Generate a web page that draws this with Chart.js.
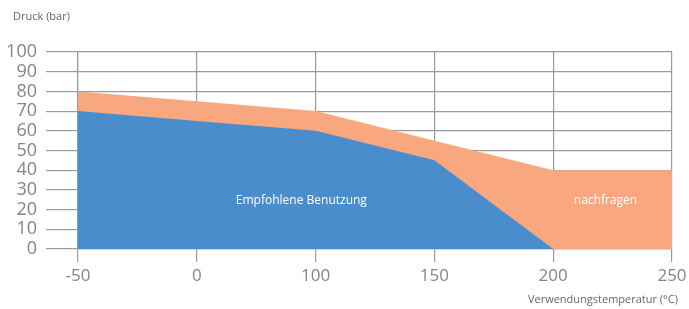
<!DOCTYPE html>
<html>
<head>
<meta charset="utf-8">
<script src="https://cdn.jsdelivr.net/npm/chart.js@4"></script>
<style>
  html, body { margin: 0; padding: 0; background: #fff; }
  #wrap { width: 689px; height: 309px; position: relative; }
</style>
</head>
<body>
<div id="wrap"><canvas id="c" width="689" height="309"></canvas></div>
<script>
const categories = ['-50', '0', '100', '150', '200', '250'];
const yTicks = [0, 10, 20, 30, 40, 50, 60, 70, 80, 90, 100];
const recommended = [70, 65, 60, 45, 0, null];
const askFirst = [80, 75, 70, 55, 40, 40];
const yTitle = 'Druck (bar)';
const xTitle = 'Verwendungstemperatur (°C)';
const regionLabels = [
  { text: 'Empfohlene Benutzung', x: 1.88, y: 24.5 },
  { text: 'nachfragen', x: 4.44, y: 24.5 }
];

const FONT = '"Open Sans", "Noto Sans", sans-serif';
const GRID = '#9a9a9a';
const TICK = '#858585';

const textPlugin = {
  id: 'texts',
  afterDraw(chart) {
    const ctx = chart.ctx;
    const xs = chart.scales.x, ys = chart.scales.y;
    ctx.save();
    ctx.textBaseline = 'middle';
    ctx.font = '11px ' + FONT;
    ctx.fillStyle = '#666';
    ctx.textAlign = 'left';
    ctx.fillText(yTitle, 13, 17);
    ctx.textAlign = 'right';
    ctx.fillText(xTitle, chart.chartArea.right + 6, 300);
    ctx.font = '12px ' + FONT;
    ctx.fillStyle = '#ffffff';
    ctx.textAlign = 'center';
    for (const r of regionLabels) {
      const px = xs.left + (xs.right - xs.left) * r.x / (categories.length - 1);
      ctx.fillText(r.text, px, ys.getPixelForValue(r.y));
    }
    ctx.restore();
  }
};

new Chart(document.getElementById('c'), {
  type: 'line',
  data: {
    labels: categories,
    datasets: [
      {
        label: 'Empfohlene Benutzung',
        data: recommended,
        borderWidth: 0,
        pointRadius: 0,
        backgroundColor: '#4a8dcc',
        fill: 'origin',
        tension: 0,
        order: 0
      },
      {
        label: 'nachfragen',
        data: askFirst,
        borderWidth: 0,
        pointRadius: 0,
        backgroundColor: '#f9a77f',
        fill: 'origin',
        tension: 0,
        order: 1
      }
    ]
  },
  options: {
    responsive: false,
    animation: false,
    events: [],
    layout: { padding: { left: 0, right: 17, top: 52, bottom: 0 } },
    plugins: { legend: { display: false }, tooltip: { enabled: false }, title: { display: false } },
    scales: {
      x: {
        type: 'category',
        offset: false,
        z: 1,
        grid: { color: GRID, lineWidth: 1.2, drawTicks: true, tickLength: 13, tickColor: GRID },
        border: { color: GRID, width: 1.2 },
        ticks: { color: TICK, font: { family: FONT, size: 17 }, padding: 4, maxRotation: 0, autoSkip: false },
        afterFit(s) { s.height = 60; s.paddingLeft = 0; s.paddingRight = 0; }
      },
      y: {
        min: 0, max: 100,
        z: 1,
        afterBuildTicks(s) { s.ticks = yTicks.map(v => ({ value: v })); },
        grid: { color: GRID, lineWidth: 1.2, drawTicks: true, tickLength: 32, tickColor: GRID },
        border: { color: GRID, width: 1.2 },
        ticks: { color: TICK, font: { family: FONT, size: 18 }, padding: 9, autoSkip: false, stepSize: 10 },
        afterFit(s) { s.width = 78; s.paddingTop = 0; s.paddingBottom = 0; }
      }
    }
  },
  plugins: [textPlugin]
});
</script>
</body>
</html>
